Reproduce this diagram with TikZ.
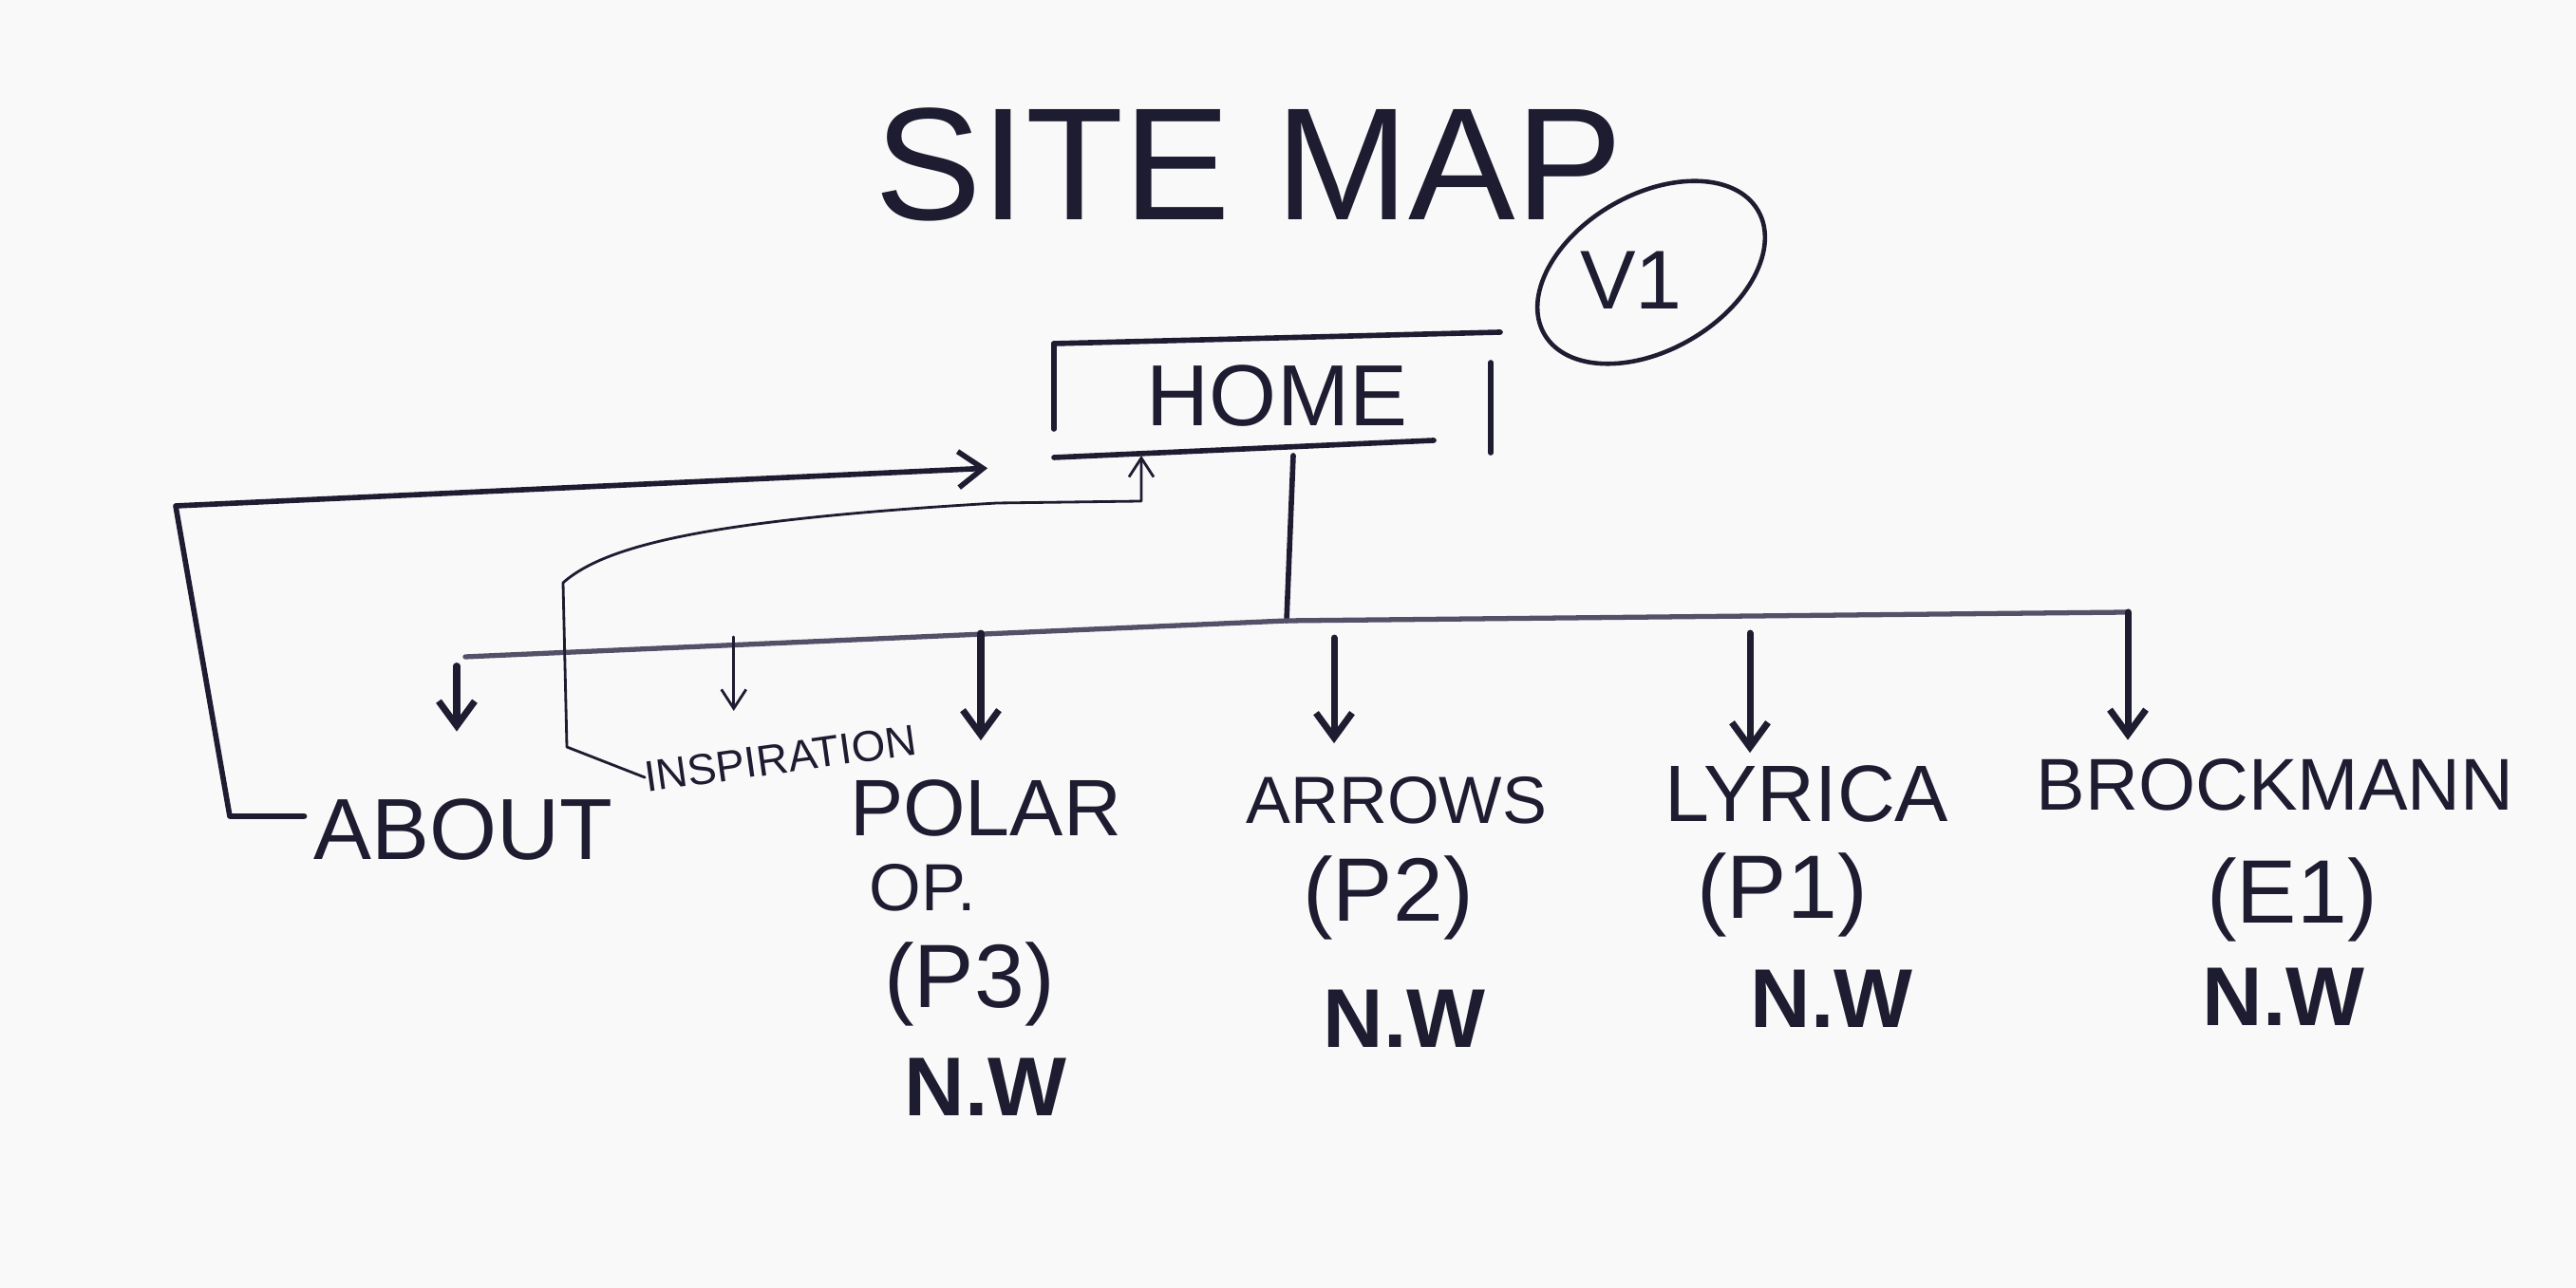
\documentclass[tikz,border=0pt]{standalone}
\usepackage{fontspec}
\setmainfont{Liberation Sans}
\usetikzlibrary{arrows.meta,shapes.geometric,positioning}
\definecolor{ink}{RGB}{30,28,48}
\definecolor{inklight}{RGB}{84,80,104}
\definecolor{paper}{RGB}{249,249,249}
\begin{document}
\begin{tikzpicture}[%
      every node/.style={inner sep=0pt,outer sep=0pt,text=ink},
      pen/.style={draw=ink,line width=1.6pt,line cap=round,line join=round},
      fine/.style={draw=ink,line width=0.8pt,line cap=round,line join=round},
      down/.style={pen,line width=2pt,-{Straight Barb[length=2.6mm,width=3.8mm]}},
      finedown/.style={fine,-{Straight Barb[length=2mm,width=2.6mm]}},
      page/.style={font=\fontsize{24}{28}\selectfont},
      code/.style={font=\fontsize{27}{31}\selectfont},
      nw/.style={font=\fontsize{25}{30}\selectfont\bfseries}]
      \fill[paper](0,0)rectangle(27.13,13.57);
      \node[font=\fontsize{48}{56}\selectfont](title)at(13.15,11.84){SITE MAP};
      \node[draw=ink,line width=1.3pt,ellipse,minimum width=2.6cm,
      minimum height=1.64cm,rotate=30](ring)at(17.39,10.70){};
      \node[font=\fontsize{25}{28}\selectfont](ver)at(17.18,10.62){V1};
      \node[font=\fontsize{26}{30}\selectfont,minimum width=4.7cm,
      minimum height=1.1cm](home)at(13.45,9.40){HOME};
      \draw[pen](home.north west)--([yshift=0.12cm]home.north east);
      \draw[pen]([yshift=-0.1cm]home.south west)
      --([xshift=-0.7cm,yshift=0.08cm]home.south east);
      \draw[pen](home.north west)--([yshift=0.2cm]home.south west);
      \draw[pen]([xshift=-0.1cm,yshift=-0.2cm]home.north east)
      --([xshift=-0.1cm,yshift=-0.05cm]home.south east);
      \node[page,font=\fontsize{26}{30}\selectfont](about)at(4.88,4.83){ABOUT};
      \node[font=\fontsize{13}{15}\selectfont,rotate=8](insp)at(8.22,5.58){INSPIRATION};
      \node[page](polar)at(10.38,5.06){POLAR};
      \node[font=\fontsize{20}{24}\selectfont](polarop)at(9.72,4.22){OP.};
      \node[code](polarcode)at(10.21,3.20){(P3)};
      \node[nw](polarnw)at(10.38,2.12){N.W};
      \node[page,font=\fontsize{20}{24}\selectfont](arrows)at(14.71,5.14){ARROWS};
      \node[code](arrowscode)at(14.62,4.11){(P2)};
      \node[nw](arrowsnw)at(14.79,2.84){N.W};
      \node[page](lyrica)at(19.03,5.21){LYRICA};
      \node[code](lyricacode)at(18.77,4.14){(P1)};
      \node[nw](lyricanw)at(19.29,3.05){N.W};
      \node[page,font=\fontsize{22}{26}\selectfont](brock)at(23.96,5.30){BROCKMANN};
      \node[code](brockcode)at(24.14,4.09){(E1)};
      \node[nw](brocknw)at(24.05,3.07){N.W};
      \coordinate(busl)at(4.90,6.65);
      \coordinate(junc)at(13.55,7.03);
      \coordinate(busr)at(22.41,7.12);
      \draw[pen]([xshift=0.17cm,yshift=-0.08cm]home.south)--(junc);
      \draw[pen,draw=inklight,line width=1.5pt](busl)--(junc)--(busr);
      \draw[down,shorten >=0.2cm](busr)--(busr|-brock.north);
      \draw[down]([xshift=-0.07cm,yshift=1.4cm]about.north)
      --([xshift=-0.07cm,yshift=0.71cm]about.north);
      \draw[finedown]([xshift=-0.47cm,yshift=1.12cm]insp.north)
      --([xshift=-0.47cm,yshift=0.34cm]insp.north);
      \draw[down]([xshift=-0.05cm,yshift=1.54cm]polar.north)
      --([xshift=-0.05cm,yshift=0.41cm]polar.north);
      \draw[down]([xshift=-0.66cm,yshift=1.46cm]arrows.north)
      --([xshift=-0.66cm,yshift=0.35cm]arrows.north);
      \draw[down]([xshift=-0.6cm,yshift=1.39cm]lyrica.north)
      --([xshift=-0.6cm,yshift=0.13cm]lyrica.north);
      \coordinate(abl)at(2.42,4.97);
      \coordinate(abtop)at(1.85,8.24);
      \draw[pen,-{Straight Barb[length=2.6mm,width=3.8mm]},shorten >=0.7cm]
      ([xshift=-0.1cm,yshift=0.14cm]about.west)--(abl)--(abtop)
      --([yshift=-0.73cm]home.west);
      \coordinate(ina)at(5.97,5.70);
      \coordinate(inb)at(5.93,7.43);
      \coordinate(inc)at(12.02,8.29);
      \draw[finedown](insp.west)--(ina)--(inb)
      ..controls(6.4,7.85)and(7.6,8.1)..(10.5,8.27)--(inc)
      --([xshift=0.92cm,yshift=-0.08cm]home.south west);
    \end{tikzpicture}
\end{document}
